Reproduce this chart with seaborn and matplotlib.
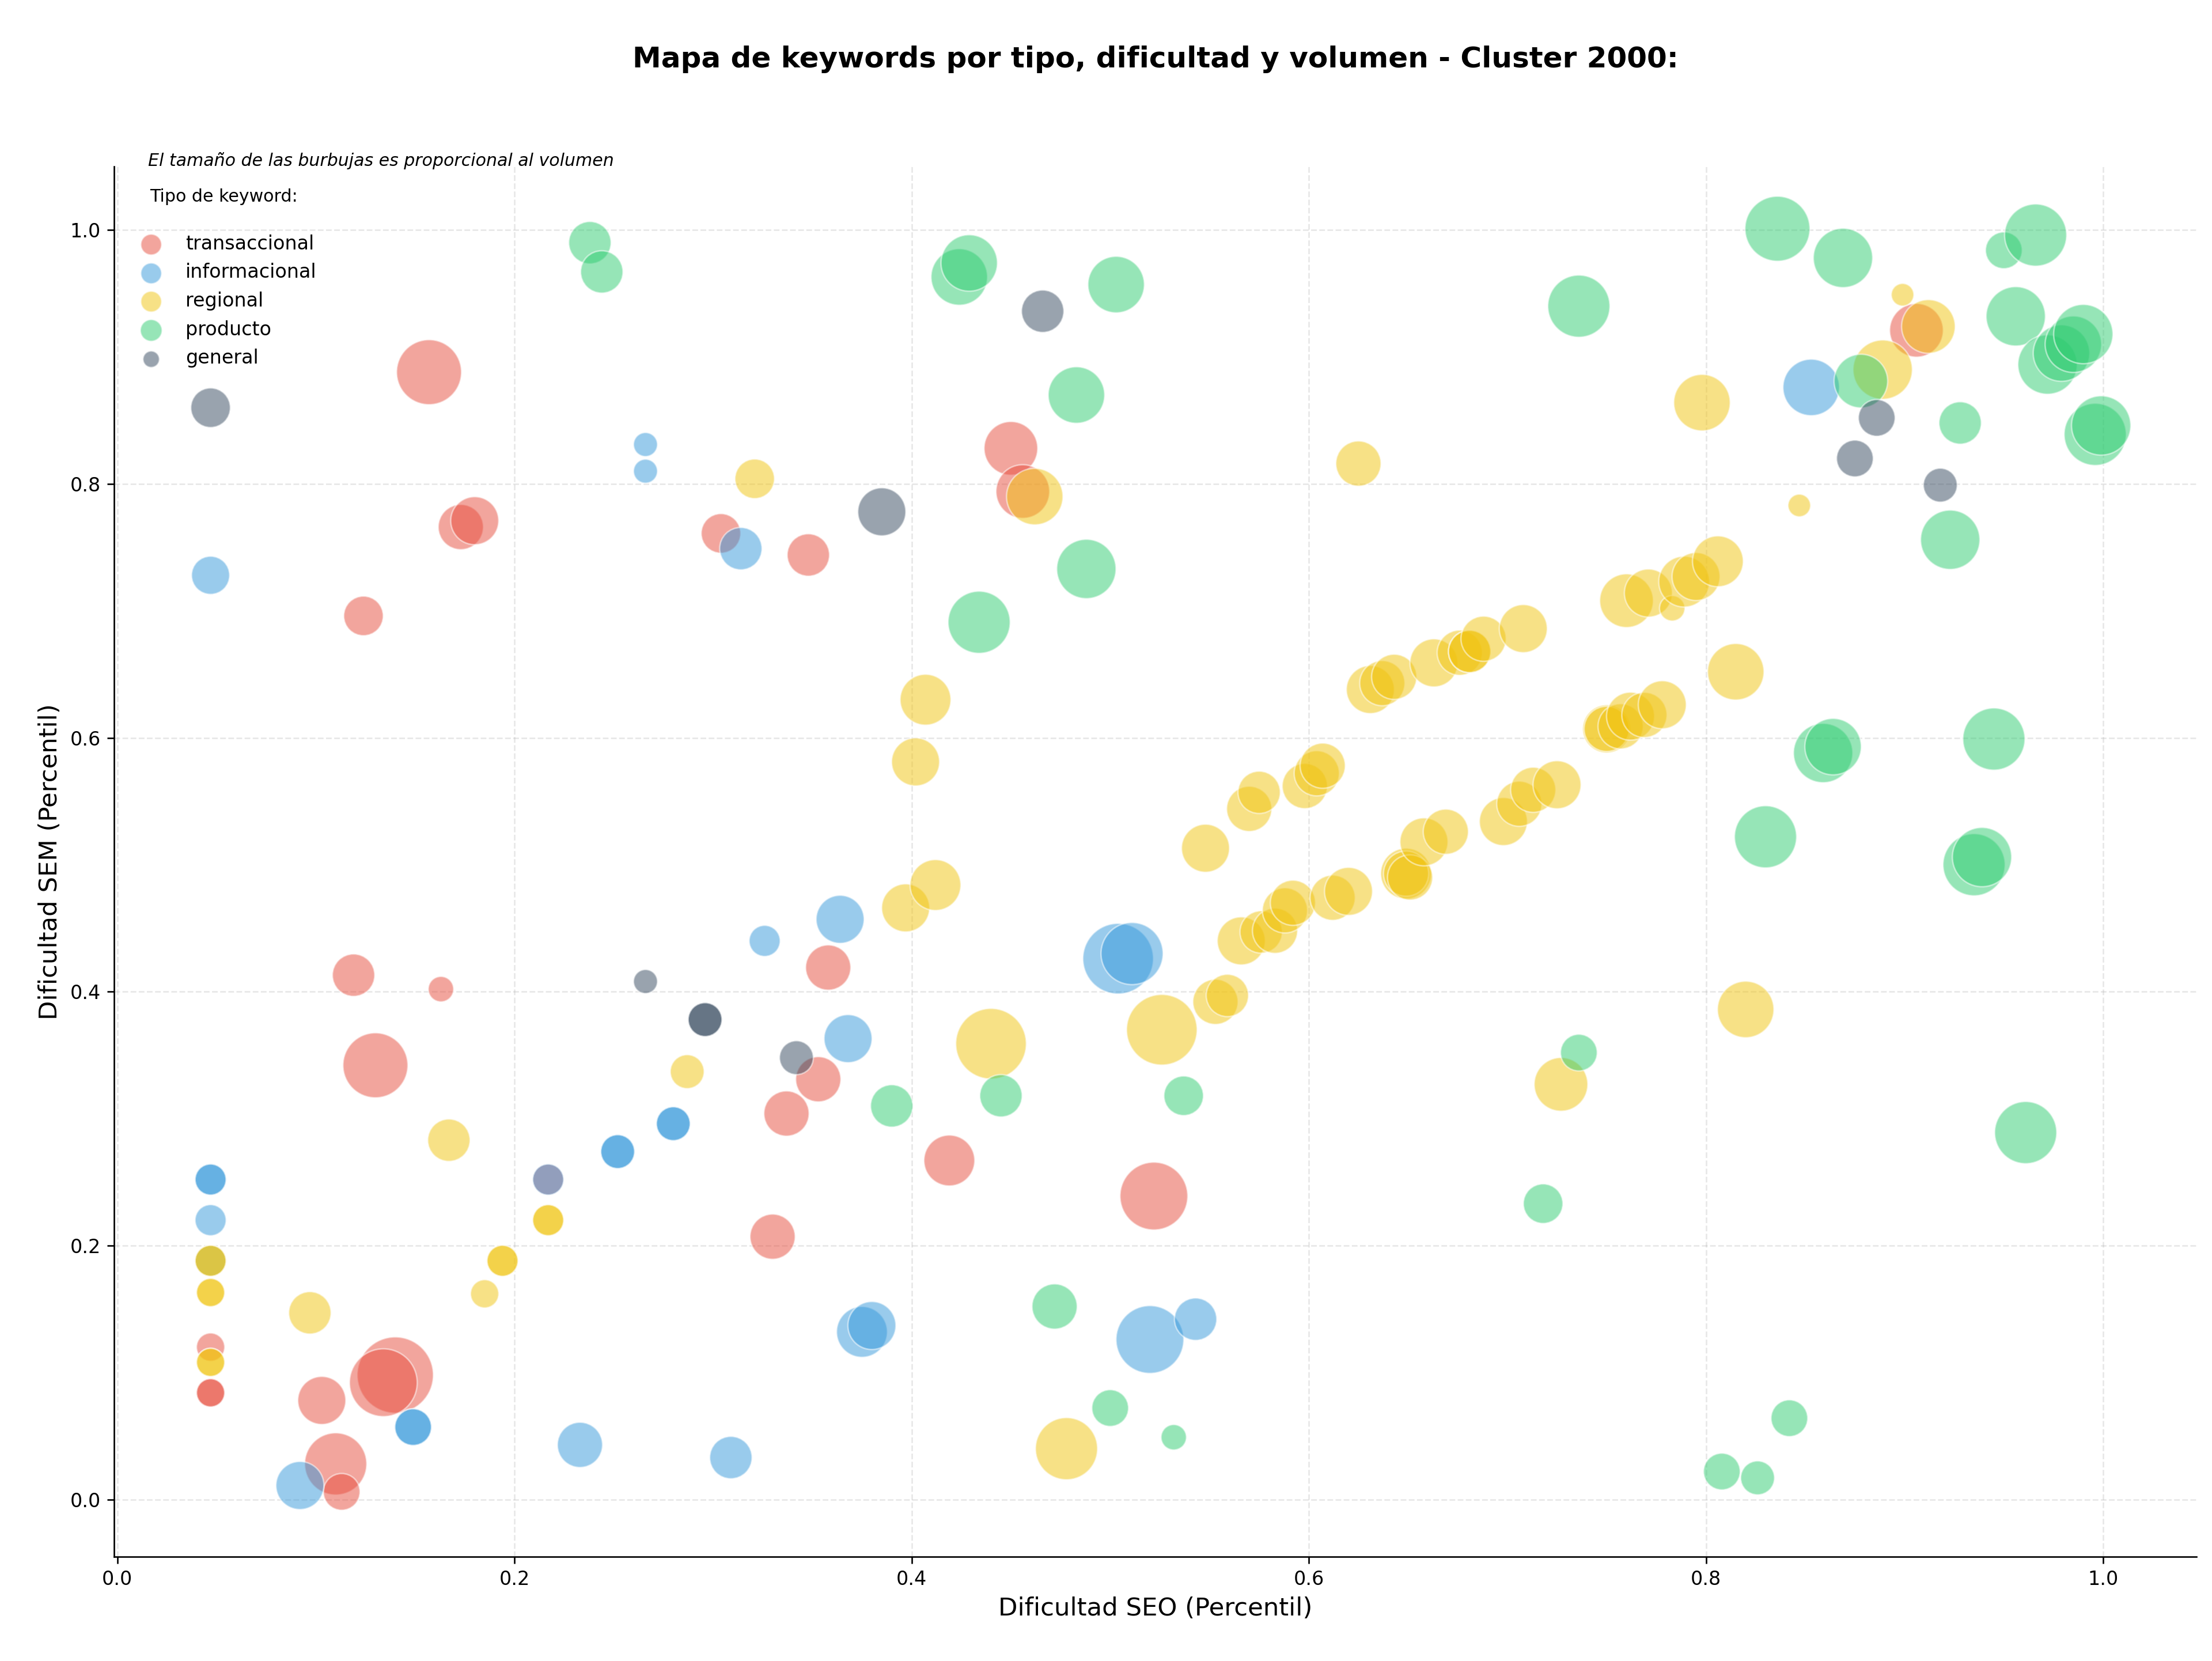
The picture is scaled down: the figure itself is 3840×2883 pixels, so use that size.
import numpy as np
import pandas as pd
import matplotlib
matplotlib.use('Agg')
import matplotlib.pyplot as plt
import seaborn as sns

# tipos de keyword y colores
tipos = ['transaccional', 'informacional', 'regional', 'producto', 'general']
colores = ['#e74c3c', '#3498db', '#f1c40f', '#2ecc71', '#34495e']

# transaccional
trans_seo = [0.157, 0.173, 0.180, 0.124, 0.304, 0.348, 0.450, 0.456, 0.119, 0.163,
             0.130, 0.358, 0.353, 0.337, 0.419, 0.330, 0.522, 0.047, 0.047, 0.047,
             0.140, 0.134, 0.103, 0.110, 0.113, 0.906, 0.217]
trans_sem = [0.888, 0.766, 0.771, 0.696, 0.761, 0.744, 0.828, 0.794, 0.413, 0.402,
             0.342, 0.419, 0.331, 0.304, 0.267, 0.207, 0.239, 0.120, 0.084, 0.084,
             0.098, 0.092, 0.078, 0.028, 0.006, 0.921, 0.252]
trans_vol = [2116, 1024, 1156, 784, 784, 900, 1444, 1444, 900, 324,
             2116, 1024, 1024, 1024, 1296, 1024, 2304, 400, 400, 400,
             2916, 2304, 1156, 1936, 676, 1444, 484]

# informacional
info_seo = [0.047, 0.266, 0.266, 0.314, 0.326, 0.364, 0.368, 0.280, 0.280, 0.252,
            0.252, 0.217, 0.504, 0.511, 0.047, 0.047, 0.047, 0.149, 0.149, 0.092,
            0.233, 0.309, 0.375, 0.380, 0.520, 0.543, 0.853, 0.047]
info_sem = [0.728, 0.831, 0.810, 0.749, 0.440, 0.457, 0.363, 0.296, 0.296, 0.274,
            0.274, 0.252, 0.426, 0.430, 0.252, 0.252, 0.220, 0.057, 0.057, 0.011,
            0.043, 0.033, 0.132, 0.137, 0.126, 0.142, 0.876, 0.188]
info_vol = [729, 289, 289, 900, 484, 1156, 1156, 576, 576, 576,
            576, 484, 2500, 1936, 484, 484, 484, 676, 676, 1156,
            1024, 900, 1296, 1156, 2304, 900, 1600, 484]

# regional
reg_seo = [0.321, 0.462, 0.407, 0.402, 0.397, 0.412, 0.287, 0.167, 0.217, 0.217,
           0.194, 0.194, 0.185, 0.097, 0.047, 0.047, 0.047, 0.047, 0.047, 0.440,
           0.526, 0.478, 0.548, 0.570, 0.575, 0.598, 0.604, 0.607, 0.566, 0.576,
           0.583, 0.588, 0.592, 0.553, 0.559, 0.612, 0.620, 0.649, 0.649, 0.651,
           0.658, 0.669, 0.625, 0.631, 0.637, 0.643, 0.663, 0.676, 0.681, 0.681,
           0.688, 0.708, 0.698, 0.706, 0.713, 0.725, 0.750, 0.750, 0.757, 0.762,
           0.769, 0.778, 0.760, 0.771, 0.783, 0.789, 0.795, 0.806, 0.815, 0.798,
           0.820, 0.727, 0.889, 0.899, 0.912, 0.847, 0.047]
reg_sem = [0.804, 0.790, 0.630, 0.581, 0.466, 0.484, 0.337, 0.283, 0.220, 0.220,
           0.188, 0.188, 0.162, 0.147, 0.188, 0.163, 0.163, 0.108, 0.108, 0.359,
           0.370, 0.040, 0.513, 0.544, 0.557, 0.562, 0.572, 0.578, 0.440, 0.447,
           0.448, 0.464, 0.470, 0.392, 0.397, 0.474, 0.479, 0.493, 0.493, 0.490,
           0.518, 0.526, 0.816, 0.638, 0.643, 0.648, 0.659, 0.667, 0.668, 0.668,
           0.678, 0.686, 0.534, 0.548, 0.559, 0.563, 0.607, 0.607, 0.609, 0.617,
           0.618, 0.626, 0.708, 0.714, 0.702, 0.723, 0.727, 0.739, 0.652, 0.864,
           0.386, 0.327, 0.890, 0.949, 0.924, 0.783, 0.188]
reg_vol = [784, 1600, 1296, 1156, 1156, 1296, 576, 900, 484, 484,
           484, 484, 400, 900, 484, 400, 400, 400, 400, 2500,
           2500, 1936, 1156, 1024, 900, 1024, 1024, 1024, 1156, 900,
           1024, 1024, 1024, 1024, 900, 1024, 1156, 1296, 1024, 1024,
           1156, 1024, 1024, 1156, 1024, 1024, 1156, 1024, 900, 900,
           1024, 1156, 1156, 1024, 1024, 1156, 1156, 1024, 1024, 1156,
           1024, 1156, 1444, 1156, 324, 1296, 1156, 1296, 1600, 1600,
           1600, 1444, 1764, 256, 1444, 256, 484]

# producto
prod_seo = [0.238, 0.244, 0.424, 0.429, 0.503, 0.483, 0.488, 0.434, 0.390, 0.445,
            0.537, 0.472, 0.500, 0.532, 0.736, 0.718, 0.736, 0.836, 0.869, 0.878,
            0.928, 0.923, 0.950, 0.966, 0.956, 0.972, 0.979, 0.985, 0.990, 0.996,
            0.999, 0.859, 0.864, 0.945, 0.830, 0.935, 0.939, 0.961, 0.842, 0.808,
            0.826]
prod_sem = [0.990, 0.967, 0.963, 0.974, 0.957, 0.870, 0.733, 0.691, 0.310, 0.318,
            0.318, 0.152, 0.072, 0.049, 0.352, 0.233, 0.940, 1.001, 0.978, 0.881,
            0.848, 0.756, 0.984, 0.996, 0.932, 0.894, 0.903, 0.910, 0.918, 0.839,
            0.846, 0.588, 0.593, 0.599, 0.522, 0.500, 0.506, 0.289, 0.064, 0.022,
            0.017]
prod_vol = [900, 900, 1600, 1600, 1600, 1600, 1764, 1936, 900, 900,
            784, 1024, 676, 324, 676, 784, 1936, 2116, 1764, 1444,
            900, 1764, 676, 1936, 1764, 1764, 1600, 1600, 1764, 1936,
            1764, 1764, 1600, 1936, 1936, 1936, 1764, 1936, 676, 676,
            576]

# general
gen_seo = [0.047, 0.385, 0.466, 0.266, 0.296, 0.296, 0.342,
           0.886, 0.875, 0.918]
gen_sem = [0.860, 0.778, 0.936, 0.408, 0.378, 0.378, 0.348,
           0.852, 0.820, 0.799]
gen_vol = [784, 1156, 900, 289, 576, 576, 576,
           676, 676, 576]

partes = []
for tipo, xs, ys, vs in zip(tipos,
                            [trans_seo, info_seo, reg_seo, prod_seo, gen_seo],
                            [trans_sem, info_sem, reg_sem, prod_sem, gen_sem],
                            [trans_vol, info_vol, reg_vol, prod_vol, gen_vol]):
    partes.append(pd.DataFrame({'seo': xs, 'sem': ys, 'volumen': vs, 'tipo': tipo}))
df = pd.concat(partes, ignore_index=True)

palette = dict(zip(tipos, colores))

fig = plt.figure(figsize=(16, 12.0125), dpi=240)
ax = fig.add_axes([0.05166, 0.06287, 0.99298 - 0.05166, 0.89975 - 0.06287])

sns.scatterplot(data=df, x='seo', y='sem', hue='tipo', size='volumen',
                palette=palette, hue_order=tipos,
                sizes=(138, 1693), size_norm=(256, 3136),
                alpha=0.5, edgecolor='white', linewidth=0.8,
                legend=False, ax=ax)

ax.set_xlim(-0.0015, 1.047)
ax.set_ylim(-0.045, 1.05)
ax.grid(True, linestyle='--', alpha=0.3)
ax.set_axisbelow(True)
sns.despine(ax=ax)
ax.tick_params(labelsize=10)
ax.set_xlabel('Dificultad SEO (Percentil)', fontsize=13)
ax.set_ylabel('Dificultad SEM (Percentil)', fontsize=13)

ax.text(0.5, 1.077, 'Mapa de keywords por tipo, dificultad y volumen - Cluster 2000:',
        transform=ax.transAxes, ha='center', va='center',
        fontsize=15, fontweight='bold')
ax.text(0.0163, 1.004, 'El tamaño de las burbujas es proporcional al volumen',
        transform=ax.transAxes, ha='left', va='center', fontsize=9, style='italic')

# leyenda solo por tipo
leg_sizes = [117, 117, 117, 128, 73]
handles = [ax.scatter([], [], s=s, color=c, alpha=0.5, edgecolor='white', linewidth=0.8)
           for c, s in zip(colores, leg_sizes)]
leg = ax.legend(handles, tipos, loc='upper left', bbox_to_anchor=(0, 0.9965),
                title='Tipo de keyword:\n', frameon=False, fontsize=10, title_fontsize=9)

fig.savefig('out.png', dpi=240)
